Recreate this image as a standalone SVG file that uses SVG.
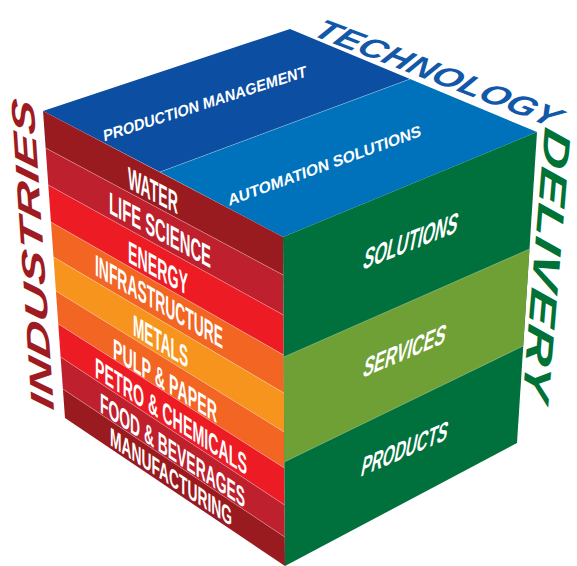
<svg xmlns="http://www.w3.org/2000/svg" width="577" height="566" viewBox="0 0 577 566">
<style>
.lbl{font-family:"Liberation Sans Narrow","Liberation Sans",Arial,sans-serif;font-weight:bold;fill:#ffffff}
.ttl{font-family:"Liberation Sans",Arial,sans-serif;font-weight:bold;font-style:italic}
.sep{stroke:#ffffff;stroke-opacity:0.35;stroke-width:0.8;fill:none}
.dr{fill:#9A1B1F}.cr{fill:#BE202E}.rd{fill:#ED1C24}.or{fill:#F26522}.lo{fill:#F7941D}
</style>
<rect width="577" height="566" fill="#ffffff"/>
<g id="top-face">
  <polygon points="43,111 290,29 410,79 160,172" fill="#0B4EA2"/>
  <polygon points="160,172 410,79 537,132 283,237" fill="#0072BC"/>
  <line class="sep" x1="160" y1="172" x2="410" y2="79"/>
  <text class="lbl" font-size="15.5" textLength="213" lengthAdjust="spacingAndGlyphs" transform="translate(104,141.5) rotate(-17.8) skewX(-12)">PRODUCTION MANAGEMENT</text>
  <text class="lbl" font-size="15.5" textLength="205" lengthAdjust="spacingAndGlyphs" transform="translate(229,206) rotate(-20) skewX(-12)">AUTOMATION SOLUTIONS</text>
</g>
<g id="left-face">
  <polygon class="dr" points="43,111 283,237 283.2,275 45.65,148"/>
  <polygon class="cr" points="45.65,148 283.2,275 283.5,315 48.3,185"/>
  <polygon class="rd" points="48.3,185 283.5,315 283.7,355 50.95,222"/>
  <polygon class="or" points="50.95,222 283.7,355 283.9,393 53.5,257"/>
  <polygon class="lo" points="53.5,257 283.9,393 284.2,432 55.9,291"/>
  <polygon class="or" points="55.9,291 284.2,432 284.4,468 58.3,324"/>
  <polygon class="rd" points="58.3,324 284.4,468 284.6,505 60.6,357"/>
  <polygon class="cr" points="60.6,357 284.6,505 284.8,537 62.9,389"/>
  <polygon class="dr" points="62.9,389 284.8,537 285,566 65,418"/>
  <path class="sep" d="M45.65,148 L283.2,275 M48.3,185 L283.5,315 M50.95,222 L283.7,355 M53.5,257 L283.9,393 M55.9,291 L284.2,432 M58.3,324 L284.4,468 M60.6,357 L284.6,505 M62.9,389 L284.8,537"/>
  <text class="lbl" font-size="31" textLength="50" lengthAdjust="spacingAndGlyphs" transform="translate(128,188) skewY(27.9)">WATER</text>
  <text class="lbl" font-size="31" textLength="102" lengthAdjust="spacingAndGlyphs" transform="translate(109,213) skewY(28.5)">LIFE SCIENCE</text>
  <text class="lbl" font-size="31" textLength="60" lengthAdjust="spacingAndGlyphs" transform="translate(128,262) skewY(29.3)">ENERGY</text>
  <text class="lbl" font-size="30" textLength="128" lengthAdjust="spacingAndGlyphs" transform="translate(95,275) skewY(30.1)">INFRASTRUCTURE</text>
  <text class="lbl" font-size="30" textLength="55" lengthAdjust="spacingAndGlyphs" transform="translate(133,335) skewY(31.1)">METALS</text>
  <text class="lbl" font-size="29" textLength="104" lengthAdjust="spacingAndGlyphs" transform="translate(113,358) skewY(32.1)">PULP &amp; PAPER</text>
  <text class="lbl" font-size="29" textLength="152" lengthAdjust="spacingAndGlyphs" transform="translate(95,377) skewY(33)">PETRO &amp; CHEMICALS</text>
  <text class="lbl" font-size="28" textLength="145" lengthAdjust="spacingAndGlyphs" transform="translate(100,412) skewY(33.6)">FOOD &amp; BEVERAGES</text>
  <text class="lbl" font-size="26" textLength="122" lengthAdjust="spacingAndGlyphs" transform="translate(110,445) skewY(33.8)">MANUFACTURING</text>
</g>
<g id="right-face">
  <polygon points="283,237 537,132 517,443 285,566" fill="#00703C"/>
  <polygon points="283.7,357 529.5,249 523.2,346 284.3,462" fill="#6FA035"/>
  <path class="sep" d="M283.7,357 L529.5,249 M284.3,462 L523.2,346"/>
  <text class="lbl" font-size="28" textLength="94" lengthAdjust="spacingAndGlyphs" transform="translate(362,270) skewY(-21.8) skewX(-12)">SOLUTIONS</text>
  <text class="lbl" font-size="26" textLength="82" lengthAdjust="spacingAndGlyphs" transform="translate(362,378) skewY(-23.2) skewX(-12)">SERVICES</text>
  <text class="lbl" font-size="26" textLength="86" lengthAdjust="spacingAndGlyphs" transform="translate(360,477) skewY(-23.4) skewX(-12)">PRODUCTS</text>
</g>
<g id="title-technology">
  <text class="ttl" fill="#1258A8" font-size="29" textLength="258" lengthAdjust="spacingAndGlyphs" transform="translate(311,35) rotate(21) skewX(-18)">TECHNOLOGY</text>
</g>
<g id="title-industries">
  <text class="ttl" fill="#9E1B22" font-size="32" textLength="310" lengthAdjust="spacingAndGlyphs" transform="translate(54,411) rotate(-93.8) skewX(-15)">INDUSTRIES</text>
</g>
<g id="title-delivery">
  <text class="ttl" fill="#007236" font-size="38" textLength="272" lengthAdjust="spacingAndGlyphs" transform="translate(545,126) rotate(94.7) skewX(-10)">DELIVERY</text>
</g>
</svg>
